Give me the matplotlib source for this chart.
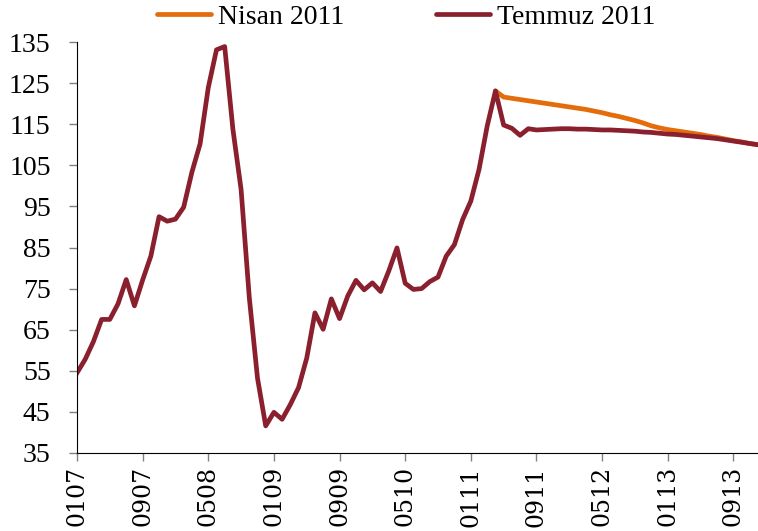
import matplotlib
matplotlib.use("Agg")
import matplotlib.pyplot as plt
import pandas as pd

# monthly series Jan 2007 - Dec 2013
months = pd.date_range("2007-01-01", "2013-12-01", freq="MS")

history = [
    54.5, 57.8, 62.1, 67.5, 67.5, 71.3, 77.2, 70.8, 77.1, 82.9, 92.5, 91.4,      # 2007
    91.9, 94.8, 103.3, 110.2, 123.9, 133.1, 133.9, 113.8, 99.1, 72.8, 53.2, 41.6,  # 2008
    44.9, 43.2, 46.8, 50.9, 58.1, 69.1, 65.1, 72.5, 67.7, 73.2, 77.0, 74.7,       # 2009
    76.4, 74.3, 79.3, 84.9, 76.3, 74.8, 75.0, 76.7, 77.8, 82.9, 85.7, 91.8,       # 2010
    96.3, 104.0, 114.6, 123.1,                                                    # 2011 Q1 + Apr
]

# forecasts from Apr 2011 onwards
nisan_2011 = [
    123.1, 121.6, 121.3, 121.0, 120.7, 120.4, 120.1, 119.8, 119.5, 119.2, 118.9,
    118.6, 118.2, 117.8, 117.3, 116.9, 116.4, 115.9, 115.3, 114.6, 114.1, 113.7,
    113.4, 113.1, 112.8, 112.5, 112.1, 111.8, 111.4, 111.0, 110.7, 110.3, 110.0,
]
temmuz_2011 = history + [
    114.8, 114.0, 112.3, 113.9, 113.6, 113.7, 113.8, 113.9, 113.9, 113.8, 113.8,
    113.7, 113.6, 113.6, 113.5, 113.4, 113.3, 113.1, 113.0, 112.8, 112.6, 112.5,
    112.3, 112.1, 111.9, 111.7, 111.5, 111.2, 110.9, 110.6, 110.3, 110.0,
]

x_all = list(range(len(months)))
x_nisan = x_all[len(history) - 1:]

fig = plt.figure(figsize=(7.58, 5.31), dpi=100)
ax = fig.add_axes([77 / 758, 78 / 531, 681 / 758, 411 / 531])

ax.plot(x_nisan, nisan_2011, color="#E46C0A", linewidth=3.4, label="Nisan 2011",
        solid_capstyle="round")
ax.plot(x_all, temmuz_2011, color="#8A1F2E", linewidth=3.4, label="Temmuz 2011",
        solid_joinstyle="round")

ax.set_xlim(0, len(months) - 1)
ax.set_ylim(35, 135)
ax.set_yticks(range(35, 136, 10))

tick_idx = x_all[::8]
ax.set_xticks(tick_idx)
ax.set_xticklabels([months[i].strftime("%m%y") for i in tick_idx], rotation=90,
                   fontfamily="DejaVu Serif", fontsize=17)
for lab in ax.get_yticklabels():
    lab.set_fontfamily("Liberation Serif")
    lab.set_fontsize(20)

ax.spines["top"].set_visible(False)
ax.spines["right"].set_visible(False)
ax.tick_params(axis="both", direction="out", length=6, width=1, color="#808080")
ax.tick_params(axis="y", pad=13)

leg = fig.legend(loc="center", bbox_to_anchor=(406 / 758, 1 - 17 / 531), ncol=2,
                 frameon=False, prop={"family": "Liberation Serif", "size": 20},
                 handlelength=1.95, columnspacing=3.3, handletextpad=0.25)
for line in leg.get_lines():
    line.set_linewidth(3.4)
    line.set_solid_capstyle("round")

fig.savefig("out.png", dpi=100)
